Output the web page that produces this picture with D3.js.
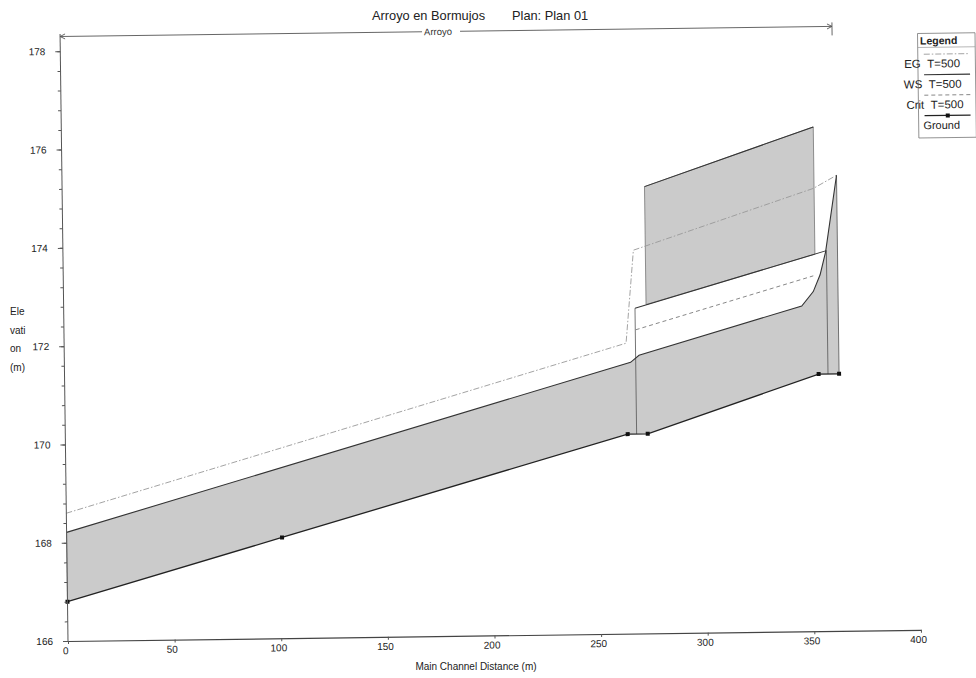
<!DOCTYPE html>
<html>
<head>
<meta charset="utf-8">
<script src="https://cdn.jsdelivr.net/npm/d3@7"></script>
<style>
  body { margin: 0; background: #fff; }
  svg { font-family: "Liberation Sans", Arial, sans-serif; }
</style>
</head>
<body>
<svg id="chart" width="976" height="678"></svg>
<script>
// stations (m) and elevations (m)
const groundSta = [0, 101, 263.7, 273.1, 353.6, 363.2];
const groundElev = [166.80, 168.05, 170.06, 170.06, 171.23, 171.23];
const wsSta = [0, 265.5, 269.5, 346.1, 351.6, 354.9, 357.6, 363.2];
const wsElev = [168.21, 171.52, 171.66, 172.62, 172.91, 173.25, 173.71, 175.27];
const egSta = [0, 263.5, 267.5, 352.3, 363.2];
const egElev = [168.60, 171.91, 173.80, 175.01, 175.27];
const critSta = [268.1, 351.7];
const critElev = [172.18, 173.23];
const culvertSta = [267.9, 358.0];
const culvertTop = [172.62, 173.74];
const culvertInvert = [170.06, 171.23];
const deckSta = [273.1, 352.6];
const deckTop = [175.09, 176.26];
const deckLow = [172.69, 173.67];
const reachSta = [0, 362];
const reachElev = 178.3;
const reachName = 'Arroyo';

const xTicks = [0, 50, 100, 150, 200, 250, 300, 350, 400];
const yTicks = [166, 168, 170, 172, 174, 176, 178];
const legendNames = ['EG\u00a0\u00a0T=500', 'WS\u00a0\u00a0T=500', 'Crit\u00a0\u00a0T=500', 'Ground'];

const svg = d3.select('#chart');
const x = d3.scaleLinear().domain([0, 400]).range([68, 921]);
const y = d3.scaleLinear().domain([166, 178]).range([641, 51.2]);

// the scanned page sits a little crooked
const plot = svg.append('g').attr('transform', 'rotate(-0.75 68 641)');

const pts = (sta, elev) => sta.map((s, i) => [s, elev[i]]);
const line = d3.line().x(d => x(d[0])).y(d => y(d[1]));

const ground = pts(groundSta, groundElev);
const ws = pts(wsSta, wsElev);
const fillGrey = '#cbcbcb';

// water between ground and WS
plot.append('path')
  .attr('d', line(ground.concat(ws.slice().reverse())) + 'Z')
  .attr('fill', fillGrey);

// road embankment over the culvert
const deck = pts(deckSta, deckLow).concat(pts(deckSta, deckTop).reverse());
plot.append('path')
  .attr('d', line(deck) + 'Z')
  .attr('fill', fillGrey)
  .attr('stroke', '#666')
  .attr('stroke-width', 0.7);
plot.append('path')
  .attr('d', line(pts(deckSta, deckTop)))
  .attr('fill', 'none')
  .attr('stroke', '#333')
  .attr('stroke-width', 1);

// culvert crown and faces
plot.append('path')
  .attr('d', line(pts(culvertSta, culvertTop)))
  .attr('fill', 'none')
  .attr('stroke', '#333')
  .attr('stroke-width', 1);
culvertSta.forEach((s, i) => {
  plot.append('path')
    .attr('d', line([[s, culvertTop[i]], [s, culvertInvert[i]]]))
    .attr('stroke', '#555')
    .attr('stroke-width', 0.8);
});

// reach ends
plot.append('path')
  .attr('d', line([ws[ws.length - 1], ground[ground.length - 1]]))
  .attr('stroke', '#555')
  .attr('stroke-width', 0.8);
plot.append('path')
  .attr('d', line([ws[0], ground[0]]))
  .attr('stroke', '#888')
  .attr('stroke-width', 0.7);

// EG
plot.append('path')
  .attr('d', line(pts(egSta, egElev)))
  .attr('fill', 'none')
  .attr('stroke', '#999')
  .attr('stroke-width', 0.9)
  .attr('stroke-dasharray', '6 2 1.5 2');

// Crit
plot.append('path')
  .attr('d', line(pts(critSta, critElev)))
  .attr('fill', 'none')
  .attr('stroke', '#7a7a7a')
  .attr('stroke-width', 0.9)
  .attr('stroke-dasharray', '4 3');

// WS
plot.append('path')
  .attr('d', line(ws))
  .attr('fill', 'none')
  .attr('stroke', '#333')
  .attr('stroke-width', 1.1);

// Ground
plot.append('path')
  .attr('d', line(ground))
  .attr('fill', 'none')
  .attr('stroke', '#222')
  .attr('stroke-width', 1.3);
plot.selectAll('rect.gp')
  .data(ground)
  .join('rect')
  .attr('class', 'gp')
  .attr('x', d => x(d[0]) - 2)
  .attr('y', d => y(d[1]) - 2)
  .attr('width', 4)
  .attr('height', 4)
  .attr('fill', '#111');

// axes
const styleAxis = g => {
  g.selectAll('line').attr('stroke', '#555');
  g.selectAll('text').attr('fill', '#222').style('font-size', '10px');
};
plot.append('g')
  .attr('transform', `translate(${x(0)},0)`)
  .call(d3.axisLeft(y).tickValues(d3.range(166, 178.01, 0.4)).tickSize(3).tickFormat(''))
  .call(g => g.select('.domain').remove())
  .call(styleAxis);
plot.append('g')
  .attr('transform', `translate(${x(0)},0)`)
  .call(d3.axisLeft(y).tickValues(yTicks).tickSize(5).tickPadding(10))
  .call(g => g.select('.domain').remove())
  .call(styleAxis);
plot.append('line')
  .attr('x1', x(0)).attr('x2', x(0))
  .attr('y1', y(166)).attr('y2', y(178.35))
  .attr('stroke', '#555');

plot.append('g')
  .attr('transform', `translate(0,${y(166)})`)
  .call(d3.axisBottom(x).tickValues(xTicks).tickSize(3).tickSizeOuter(0).tickPadding(3))
  .call(g => g.select('.domain').attr('stroke', '#444').attr('stroke-width', 1.2))
  .call(styleAxis)
  .call(g => g.selectAll('text').attr('dx', -3));

// reach line with name
const ry = y(reachElev);
const rx0 = x(reachSta[0]);
const rx1 = x(reachSta[1]);
const labelX = x(d3.mean(reachSta)) - 8;
const reach = plot.append('g').attr('stroke', '#555').attr('fill', 'none').attr('stroke-width', 0.9);
reach.append('path').attr('d', `M${rx0},${ry}H${labelX - 16}M${labelX + 22},${ry}H${rx1}`);
reach.append('path').attr('d', `M${rx0 + 5},${ry - 2.5}L${rx0},${ry}L${rx0 + 5},${ry + 2.5}`);
reach.append('path').attr('d', `M${rx1 - 5},${ry - 2.5}L${rx1},${ry}L${rx1 - 5},${ry + 2.5}M${rx1},${ry - 4}V${ry + 9}`);
plot.append('text')
  .attr('x', labelX).attr('y', ry + 3.4)
  .attr('text-anchor', 'middle')
  .style('font-size', '9.5px')
  .attr('fill', '#333')
  .text(reachName);

// titles
svg.append('text').attr('x', 372).attr('y', 19.5).style('font-size', '12.8px').attr('fill', '#222').text('Arroyo en Bormujos');
svg.append('text').attr('x', 512).attr('y', 19.5).style('font-size', '12.8px').attr('fill', '#222').text('Plan: Plan 01');
svg.append('text').attr('x', 476).attr('y', 669.5).attr('text-anchor', 'middle').style('font-size', '10px').attr('fill', '#222').text('Main Channel Distance (m)');
['Ele', 'vati', 'on', '(m)'].forEach((t, i) => {
  svg.append('text').attr('x', 10).attr('y', 315 + i * 18.5).style('font-size', '10px').attr('fill', '#222').text(t);
});

// legend
const lg = svg.append('g').attr('transform', 'translate(917.5,33.5) rotate(-0.75)');
lg.append('rect').attr('width', 57.5).attr('height', 104.5).attr('fill', 'none').attr('stroke', '#777').attr('stroke-width', 0.8);
lg.append('line').attr('x1', 0).attr('x2', 57.5).attr('y1', 14).attr('y2', 14).attr('stroke', '#999').attr('stroke-width', 0.7);
lg.append('text').attr('x', 21).attr('y', 11).attr('text-anchor', 'middle').style('font-size', '10.5px').style('font-weight', 'bold').attr('fill', '#222').text('Legend');
const legStyles = [
  { stroke: '#999', dash: '6 2 1.5 2', w: 0.9 },
  { stroke: '#333', dash: null, w: 1.1 },
  { stroke: '#7a7a7a', dash: '4 3', w: 0.9 },
  { stroke: '#222', dash: null, w: 1.3 }
];
const legTextX = [14.2, 14.5, 16.5, 23];
legendNames.forEach((name, i) => {
  const ly = 20.8 + i * 20.5;
  lg.append('line')
    .attr('x1', 6).attr('x2', 52).attr('y1', ly).attr('y2', ly)
    .attr('stroke', legStyles[i].stroke)
    .attr('stroke-width', legStyles[i].w)
    .attr('stroke-dasharray', legStyles[i].dash);
  if (name === 'Ground') {
    lg.append('rect').attr('x', 27.2).attr('y', ly - 2).attr('width', 4).attr('height', 4).attr('fill', '#111');
  }
  lg.append('text')
    .attr('x', legTextX[i]).attr('y', ly + 13.5)
    .attr('text-anchor', 'middle')
    .style('font-size', name === 'Ground' ? '11px' : '11.5px')
    .attr('fill', '#222')
    .text(name);
});
</script>
</body>
</html>
